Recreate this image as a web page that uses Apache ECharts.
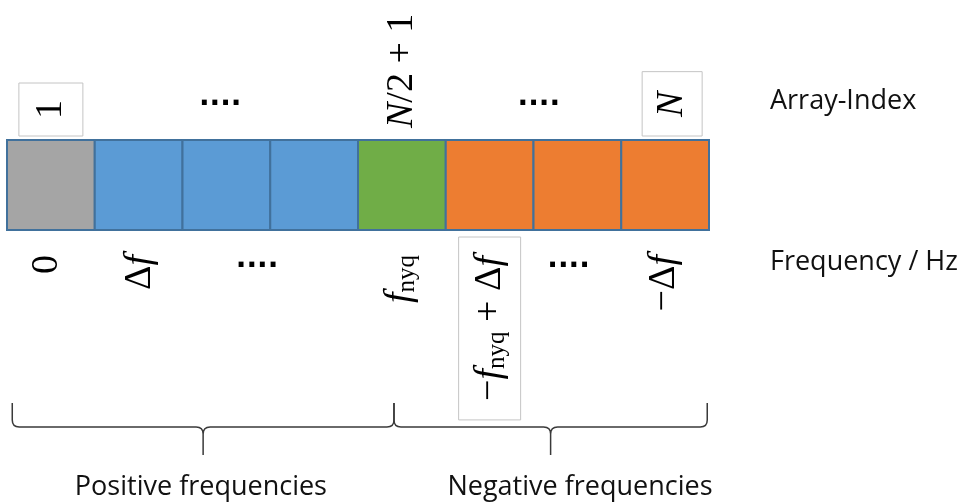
<!DOCTYPE html>
<html><head><meta charset="utf-8">
<script src="https://cdn.jsdelivr.net/npm/echarts@6/dist/echarts.min.js"></script>
<style>html,body{margin:0;padding:0;background:#fff}#c{width:966px;height:504px}</style>
</head><body><div id="c"></div>
<script>
// ---------------- data ----------------
const cellGroups = ['dc','pos','pos','pos','nyq','neg','neg','neg'];
const cellValues = [1,1,1,1,1,1,1,1];
const indexTexts = ['1','....','{i|N}/2 + 1','....','{i|N}'];
const indexAt    = [0.5, 2.43, 4.5, 6.06, 7.58];
const freqTexts  = ['0','Δ{i|f}','....','{i|f}{s|nyq}','−{i|f}{s|nyq} + Δ{i|f}','....','−Δ{i|f}'];
const freqAt     = [0.46, 1.52, 2.85, 4.48, 5.50, 6.40, 7.49];
const groupNames = ['Positive frequencies','Negative frequencies'];
const groupSpans = [[0.06, 4.41],[4.41, 7.98]];
const groupNameAt = [2.21, 6.53];
const rowTitles  = ['Array-Index','Frequency / Hz'];
const rowTitleAt = 8.695;

// ---------------- styles ----------------
const groupColors = {dc:'#A5A5A5', pos:'#5B9BD5', nyq:'#70AD47', neg:'#ED7D31'};
const cellBorder = '#41719C';
const indexBoxed = [true,false,false,false,true];
const freqBoxed  = [false,false,false,false,true,false,false];
const indexPads  = {0:[12,17,12,17], 4:[10,20,10,19]};
const freqPads   = {4:[11,19,11,19]};
const MATH = '"Liberation Serif","Times New Roman",serif';
const SANS = '"Open Sans",sans-serif';
const DOTS_FONT = 'bold 28px "DejaVu Sans"';
const mathRich = {
  i: {fontFamily: MATH, fontSize: 38, fontStyle: 'italic', lineHeight: 40, fill: '#000'},
  s: {fontFamily: MATH, fontSize: 25, lineHeight: 20, verticalAlign: 'bottom', fill: '#000'}
};
function mathStyle(text, align, boxed, pad) {
  const st = {text: text, fill: '#000', fontFamily: MATH, fontSize: 38, lineHeight: 40,
              align: align, verticalAlign: 'middle', rich: mathRich};
  if (boxed) { st.padding = pad; st.borderColor = '#C4C4C4'; st.borderWidth = 1; }
  return st;
}

const specs = [];
indexTexts.forEach(function (t, k) {
  if (t === '....') {
    specs.push({x: indexAt[k], row: 1, dy: -42, rot: 0,
      style: {text: t, font: DOTS_FONT, fill: '#000', align: 'center', verticalAlign: 'middle'}});
  } else {
    specs.push({x: indexAt[k], row: 1, dy: indexBoxed[k] ? -4 : -12, rot: Math.PI / 2,
      style: mathStyle(t, 'left', indexBoxed[k], indexPads[k])});
  }
});
freqTexts.forEach(function (t, k) {
  if (t === '....') {
    specs.push({x: freqAt[k], row: 0, dy: 30, rot: 0,
      style: {text: t, font: DOTS_FONT, fill: '#000', align: 'center', verticalAlign: 'middle'}});
  } else {
    specs.push({x: freqAt[k], row: 0, dy: freqBoxed[k] ? 7 : 25, rot: Math.PI / 2,
      style: mathStyle(t, 'right', freqBoxed[k], freqPads[k])});
  }
});
groupNames.forEach(function (t, k) {
  specs.push({x: groupNameAt[k], row: 0, dy: 257, rot: 0,
    style: {text: t, fontFamily: SANS, fontSize: 27, fill: '#111', align: 'center', verticalAlign: 'middle'}});
});
specs.push({x: rowTitleAt, row: 1, dy: -38.5, rot: 0,
  style: {text: rowTitles[0], fontFamily: SANS, fontSize: 27, fill: '#111', align: 'left', verticalAlign: 'middle'}});
specs.push({x: rowTitleAt, row: 0, dy: 32, rot: 0,
  style: {text: rowTitles[1], fontFamily: SANS, fontSize: 27, fill: '#111', align: 'left', verticalAlign: 'middle'}});

const chart = echarts.init(document.getElementById('c'), null, {renderer: 'canvas'});
chart.setOption({
  animation: false,
  backgroundColor: '#fff',
  grid: {left: 7, top: 140, width: 702, height: 90},
  xAxis: {type: 'value', min: 0, max: 8, show: false},
  yAxis: {type: 'value', min: 0, max: 1, show: false},
  series: [
    {
      type: 'custom', coordinateSystem: 'cartesian2d', z: 2,
      encode: {x: 0, y: 1},
      data: cellValues.map(function (v, i) { return [i, v]; }),
      renderItem: function (params, api) {
        const i = api.value(0);
        const p0 = api.coord([i, api.value(1)]);
        const p1 = api.coord([i + 1, 0]);
        return {type: 'rect',
          shape: {x: p0[0], y: p0[1], width: p1[0] - p0[0], height: p1[1] - p0[1]},
          style: {fill: groupColors[cellGroups[params.dataIndex]], stroke: cellBorder, lineWidth: 2}};
      }
    },
    {
      type: 'custom', coordinateSystem: 'cartesian2d', z: 3,
      encode: {x: [0, 1], y: 2},
      data: groupSpans.map(function (s) { return [s[0], s[1], 0]; }),
      renderItem: function (params, api) {
        const a = api.coord([api.value(0), 0]), b = api.coord([api.value(1), 0]);
        const x0 = a[0], x1 = b[0], xm = (x0 + x1) / 2, yb = a[1];
        const yT = yb + 173, yH = yb + 197, yP = yb + 225, r = 7;
        const d = 'M' + x0 + ',' + yT + ' L' + x0 + ',' + (yH - r) + ' Q' + x0 + ',' + yH + ' ' + (x0 + r) + ',' + yH +
          ' L' + (xm - r) + ',' + yH + ' Q' + xm + ',' + yH + ' ' + xm + ',' + (yH + r) + ' L' + xm + ',' + yP +
          ' M' + xm + ',' + (yH + r) + ' Q' + xm + ',' + yH + ' ' + (xm + r) + ',' + yH +
          ' L' + (x1 - r) + ',' + yH + ' Q' + x1 + ',' + yH + ' ' + x1 + ',' + (yH - r) + ' L' + x1 + ',' + yT;
        return {type: 'path', shape: {pathData: d},
          style: {stroke: '#3a3a3a', lineWidth: 1.5, fill: 'none'}};
      }
    },
    {
      type: 'custom', coordinateSystem: 'cartesian2d', z: 4,
      encode: {x: 0, y: 1},
      data: specs.map(function (s) { return [s.x, s.row]; }),
      renderItem: function (params, api) {
        const s = specs[params.dataIndex];
        const p = api.coord([api.value(0), api.value(1)]);
        return {type: 'text', x: p[0], y: p[1] + s.dy, rotation: s.rot,
          style: Object.assign({}, s.style)};
      }
    }
  ]
});
</script>
</body></html>
